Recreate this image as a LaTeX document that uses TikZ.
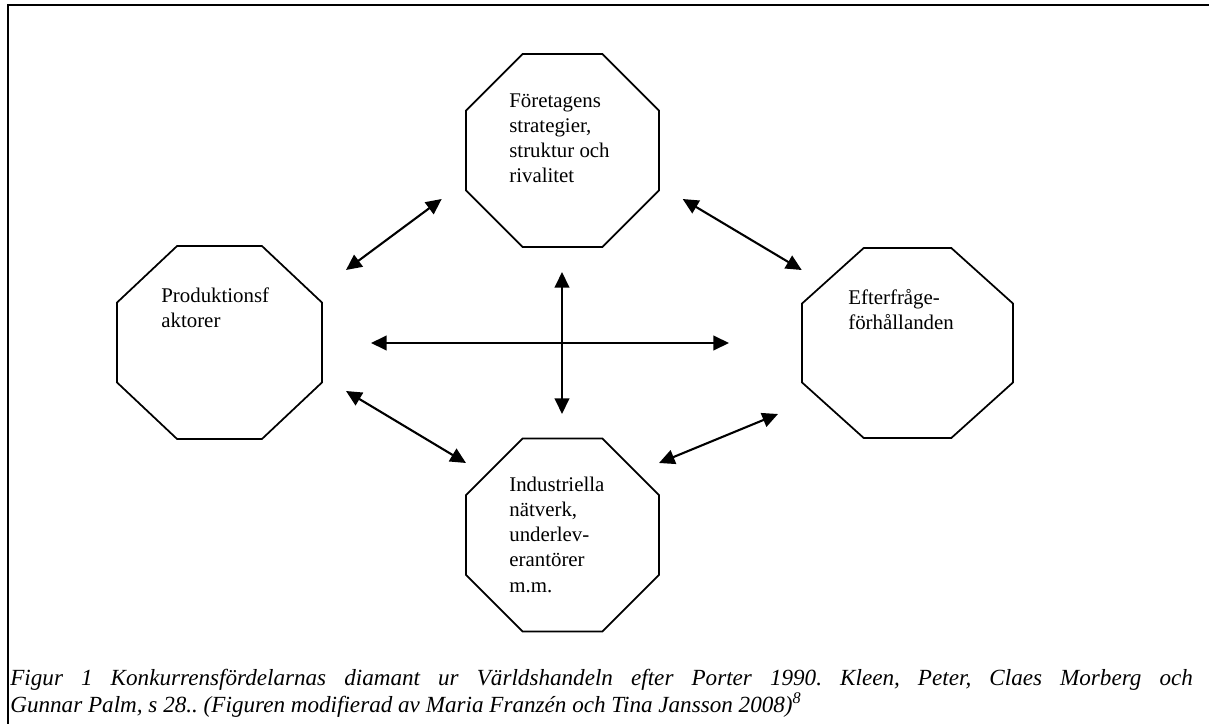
\documentclass[tikz,border=0pt]{standalone}
\usepackage{fontspec}
\setmainfont{Liberation Serif}
\usetikzlibrary{shapes.geometric}
\usetikzlibrary{arrows.meta}

\tikzset{
  octagon/.style={draw, line width=1pt, regular polygon, regular polygon sides=8,
    minimum size=120.1pt, inner sep=0pt},
  factor/.style={anchor=north west, inner sep=0pt, align=left,
    font=\fontsize{12}{14.4}\selectfont},
  link/.style={{Triangle[length=9pt,width=8.4pt]}-{Triangle[length=9pt,width=8.4pt]},
    line width=1.2pt},
  caption/.style={anchor=north west, inner sep=0pt, text width=680pt, align=justify,
    font=\frenchspacing\itshape\fontsize{13.3}{13.8}\selectfont}
}

\begin{document}
\begin{tikzpicture}[x=0.575pt, y=-0.575pt]
\useasboundingbox (0, 0) rectangle (1209, 724);
\draw[line width=1pt] (1215, 5) -| (8, 730);

\node[octagon] (strategi) at (562.5, 150.5) {};
\node[octagon, xscale=1.062, transform shape] (produktion) at (219.5, 342.5) {};
\node[octagon, minimum size=118.3pt, xscale=1.111, transform shape] (efterfragan) at (907.5, 343) {};
\node[octagon] (industri) at (562.5, 535) {};

\node[factor] (strategitext) at (509, 93) {Företagens\\strategier,\\struktur och\\rivalitet};
\node[factor] (produktiontext) at (161, 287) {Produktionsf\\aktorer};
\node[factor] (efterfragantext) at (848, 289) {Efterfråge-\\förhållanden};
\node[factor] (industritext) at (509, 477) {Industriella\\nätverk,\\underlev-\\erantörer\\m.m.};

\coordinate (ps) at (346, 270);
\coordinate (sp) at (441.7, 199);
\coordinate (se) at (682.7, 199);
\coordinate (es) at (801.7, 270);
\coordinate (pi) at (346, 391);
\coordinate (ip) at (466, 463);
\coordinate (ie) at (659, 463);
\coordinate (ei) at (778, 414);
\coordinate (pe) at (371, 343);
\coordinate (ep) at (729, 343);
\coordinate (si) at (562, 272);
\coordinate (is) at (562, 414);

\draw[link] (ps) -- (sp);
\draw[link] (se) -- (es);
\draw[link] (pi) -- (ip);
\draw[link] (ie) -- (ei);
\draw[link] (pe) -- (ep);
\draw[link] (si) -- (is);

\node[caption] (figurtext) at (10, 669) {Figur 1 Konkurrensfördelarnas diamant ur Världshandeln efter Porter 1990. Kleen, Peter, Claes Morberg och\linebreak Gunnar Palm, s 28.. (Figuren modifierad av Maria Franzén och Tina Jansson 2008)\textsuperscript{8}};
\end{tikzpicture}
\end{document}
